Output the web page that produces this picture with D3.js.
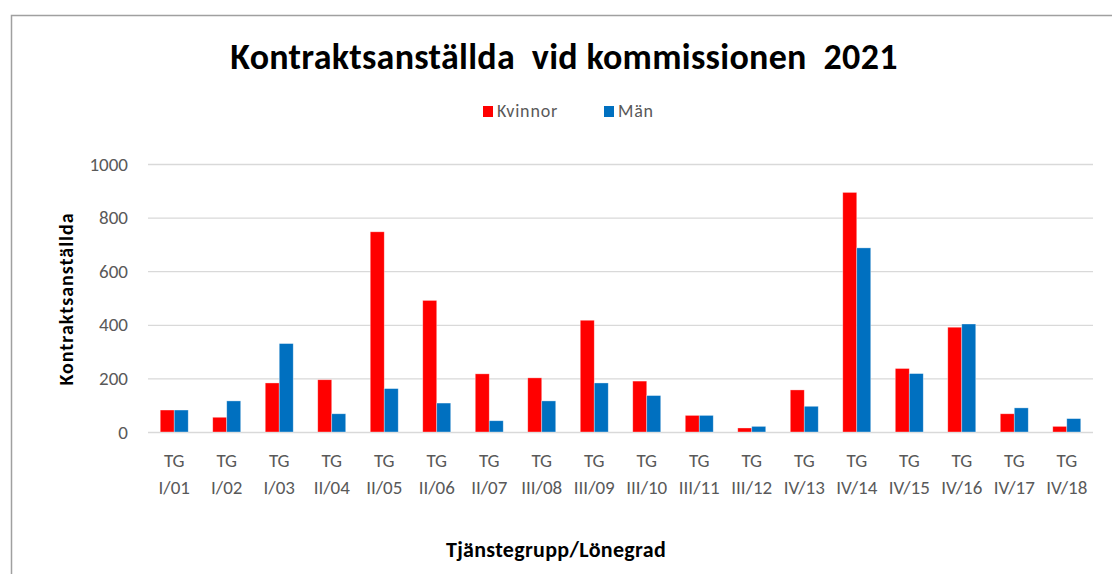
<!DOCTYPE html>
<html>
<head>
<meta charset="utf-8">
<script src="https://cdn.jsdelivr.net/npm/d3@7"></script>
<style>
  body { margin: 0; background: #fff; }
  svg text { font-family: Carlito, Lato, "Liberation Sans", sans-serif; }
</style>
</head>
<body>
<div id="chart"></div>
<script>
// Data
const categories = ["TG I/01", "TG I/02", "TG I/03", "TG II/04", "TG II/05", "TG II/06",
    "TG II/07", "TG III/08", "TG III/09", "TG III/10", "TG III/11", "TG III/12",
    "TG IV/13", "TG IV/14", "TG IV/15", "TG IV/16", "TG IV/17", "TG IV/18"];
const kvinnor = [82, 55, 183, 195, 747, 491, 217, 202, 417, 190, 62, 15, 157, 894, 237, 391, 68, 21];
const man = [82, 116, 330, 68, 162, 108, 42, 116, 183, 136, 62, 21, 96, 687, 218, 403, 90, 50];
const seriesNames = ["Kvinnor", "Män"];
const seriesColors = ["#ff0000", "#0070c0"];
const yTicks = [0, 200, 400, 600, 800, 1000];

const W = 1112, H = 574;
const margin = { top: 164, right: 19, bottom: 142, left: 148 };
const width = W - margin.left - margin.right;
const height = H - margin.top - margin.bottom;

const root = d3.select("#chart")
    .append("svg")
    .attr("width", W)
    .attr("height", H);

// Chart frame (only top and left edges visible)
root.append("path")
    .attr("d", `M11.5,${H} V15.5 H${W}`)
    .attr("fill", "none")
    .attr("stroke", "#a0a0a0")
    .attr("stroke-width", 1.5);

// Title
root.append("text")
    .attr("x", 564)
    .attr("y", 69)
    .attr("text-anchor", "middle")
    .style("white-space", "pre")
    .style("font-size", "36px")
    .style("font-weight", "bold")
    .style("letter-spacing", "0.3px")
    .attr("fill", "#000")
    .text("Kontraktsanställda  vid kommissionen  2021");

// Legend
const legendX = [483, 604];
seriesNames.forEach((name, i) => {
    const g = root.append("g").attr("transform", `translate(${legendX[i]},106)`);
    g.append("rect").attr("width", 10).attr("height", 11).attr("fill", seriesColors[i]);
    g.append("text")
        .attr("x", 14)
        .attr("y", 11)
        .style("font-size", "18px")
        .style("letter-spacing", "0.8px")
        .attr("fill", "#595959")
        .text(name);
});

const svg = root.append("g")
    .attr("transform", `translate(${margin.left},${margin.top})`);

// Scales
const x0 = d3.scaleBand()
    .domain(categories)
    .range([0, width])
    .paddingInner(0.467)
    .paddingOuter(0.233);

const x1 = d3.scaleBand()
    .domain(seriesNames)
    .range([0, x0.bandwidth()]);

const y = d3.scaleLinear()
    .domain([0, 1000])
    .range([height, 0]);

// Y axis + gridlines
const yAxis = svg.append("g")
    .call(d3.axisLeft(y).tickValues(yTicks).tickFormat(d3.format("d")).tickSize(-width).tickPadding(20));
yAxis.select(".domain").remove();
yAxis.selectAll(".tick line").attr("stroke", "#d9d9d9").attr("stroke-width", 1.3);
yAxis.selectAll(".tick text")
    .attr("fill", "#595959")
    .style("font-size", "19px");

// X axis labels (two lines)
const xAxis = svg.append("g")
    .attr("transform", `translate(0,${height})`)
    .call(d3.axisBottom(x0).tickSize(0).tickFormat(""));
xAxis.select(".domain").remove();
xAxis.selectAll(".tick").each(function (d) {
    const parts = d.split(" ");
    const t = d3.select(this).append("text")
        .attr("fill", "#595959")
        .attr("text-anchor", "middle")
        .style("font-size", "19px");
    t.append("tspan").attr("x", 0).attr("y", 35).text(parts[0]);
    t.append("tspan").attr("x", 0).attr("y", 62).text(parts[1]);
});

// Bars
const rows = categories.map((c, i) => ({ cat: c, values: [kvinnor[i], man[i]] }));
const groups = svg.selectAll(".grp")
    .data(rows)
    .enter()
    .append("g")
    .attr("transform", d => `translate(${x0(d.cat)},0)`);

groups.selectAll("rect")
    .data(d => d.values.map((v, i) => ({ key: seriesNames[i], v: v, i: i })))
    .enter()
    .append("rect")
    .attr("x", d => x1(d.key))
    .attr("y", d => y(d.v))
    .attr("width", x1.bandwidth())
    .attr("height", d => height - y(d.v))
    .attr("fill", d => seriesColors[d.i])
    .attr("stroke", "#ffffff")
    .attr("stroke-opacity", 0.5)
    .attr("stroke-width", 0.7);

// Axis titles
root.append("text")
    .attr("transform", "translate(73,299) rotate(-90)")
    .attr("text-anchor", "middle")
    .style("font-size", "20px")
    .style("font-weight", "bold")
    .style("letter-spacing", "1px")
    .attr("fill", "#000")
    .text("Kontraktsanställda");

root.append("text")
    .attr("x", 556)
    .attr("y", 557)
    .attr("text-anchor", "middle")
    .style("font-size", "22px")
    .style("font-weight", "bold")
    .style("letter-spacing", "0.3px")
    .attr("fill", "#000")
    .text("Tjänstegrupp/Lönegrad");
</script>
</body>
</html>
